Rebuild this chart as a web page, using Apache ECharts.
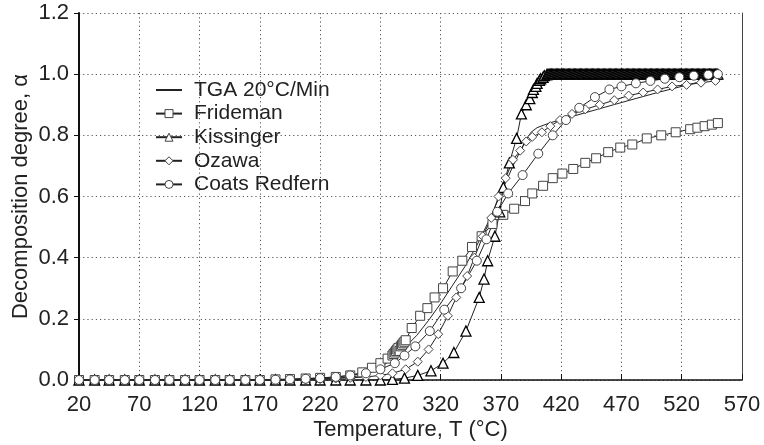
<!DOCTYPE html>
<html><head><meta charset="utf-8">
<script src="https://cdn.jsdelivr.net/npm/echarts@6/dist/echarts.min.js"></script>
<style>html,body{margin:0;padding:0;background:#fff}#c{width:764px;height:445px}</style>
</head><body><div id="c"></div>
<script>
const seriesNames = ['TGA 20°C/Min', 'Frideman', 'Kissinger', 'Ozawa', 'Coats Redfern'];
const xTicks = [20, 70, 120, 170, 220, 270, 320, 370, 420, 470, 520, 570];
const yTicks = [0, 0.2, 0.4, 0.6, 0.8, 1.0, 1.2];

const tga = [[20,0],[60,0],[100,0],[140,0],[180,0],[200,0.002],[220,0.004],[240,0.008],[250,0.012],[260,0.022],[270,0.04],[280,0.07],[290,0.105],[300,0.145],[310,0.195],[320,0.25],[330,0.31],[340,0.37],[350,0.44],[360,0.52],[370,0.61],[380,0.70],[390,0.78],[395,0.81],[400,0.825],[410,0.84],[425,0.857],[450,0.885],[477,0.915],[500,0.94],[525,0.965],[550,0.99]];

const frideman = [[20,0],[33,0],[45,0],[58,0],[70,0],[83,0],[95,0],[108,0],[120,0],[133,0],[145,0],[158,0],[170,0],[183,0.002],[195,0.003],[208,0.005],[220,0.007],[233,0.01],[245,0.015],[255,0.025],[263,0.04],[270,0.055],[276,0.07],[280,0.08],[281,0.085],[282,0.09],[283,0.095],[284,0.1],[285,0.105],[286,0.095],[287,0.11],[288,0.115],[289,0.12],[290,0.125],[291,0.13],[296,0.17],[303,0.21],[309,0.235],[315,0.27],[322,0.30],[330,0.355],[338,0.39],[346,0.435],[354,0.47],[363,0.51],[372,0.54],[381,0.56],[390,0.585],[396,0.61],[405,0.635],[413,0.66],[421,0.675],[430,0.69],[440,0.71],[449,0.725],[459,0.745],[469,0.76],[479,0.77],[491,0.79],[503,0.80],[515,0.81],[527,0.82],[533,0.825],[539,0.83],[545,0.835],[550,0.84]];

const kissinger = [[20,0],[33,0],[45,0],[58,0],[70,0],[83,0],[95,0],[108,0],[120,0],[133,0],[145,0],[158,0],[170,0],[183,0],[195,0],[208,0],[220,0],[233,0],[245,0],[258,0],[270,0],[280,0.002],[290,0.006],[301,0.015],[312,0.03],[322,0.055],[331,0.09],[341,0.16],[352,0.27],[356,0.33],[359,0.39],[365,0.47],[369,0.55],[372,0.63],[377,0.71],[383,0.79],[387,0.87],[391,0.90],[394,0.92],[396,0.94],[397,0.95],[399,0.96],[400,0.97],[402,0.98],[403,0.985],[405,0.99],[406,0.995],[408,0.998],[409,1.0],
[410,1.0],[411,1.0],[412,1.0],[413,1.0],[414,1.0],[415,1.0],[416,1.0],[417,1.0],[418,1.0],[419,1.0],[420,1.0],[421,1.0],[422,1.0],[423,1.0],[424,1.0],[425,1.0],[426,1.0],[427,1.0],[428,1.0],[429,1.0],[430,1.0],[431,1.0],[432,1.0],[433,1.0],[434,1.0],[435,1.0],[436,1.0],[437,1.0],[438,1.0],[439,1.0],[440,1.0],[441,1.0],[442,1.0],[443,1.0],[444,1.0],[445,1.0],[446,1.0],[447,1.0],[448,1.0],[449,1.0],[450,1.0],[451,1.0],[452,1.0],[453,1.0],[454,1.0],[455,1.0],[456,1.0],[457,1.0],[458,1.0],[459,1.0],[460,1.0],[461,1.0],[462,1.0],[463,1.0],[464,1.0],[465,1.0],[466,1.0],[467,1.0],[468,1.0],[469,1.0],[470,1.0],[471,1.0],[472,1.0],[473,1.0],[474,1.0],[475,1.0],[476,1.0],[477,1.0],[478,1.0],[479,1.0],[480,1.0],[481,1.0],[482,1.0],[483,1.0],[484,1.0],[485,1.0],[486,1.0],[487,1.0],[488,1.0],[489,1.0],[490,1.0],[491,1.0],[492,1.0],[493,1.0],[494,1.0],[495,1.0],[496,1.0],[497,1.0],[498,1.0],[499,1.0],[500,1.0],[501,1.0],[502,1.0],[503,1.0],[504,1.0],[505,1.0],[506,1.0],[507,1.0],[508,1.0],[509,1.0],[510,1.0],[511,1.0],[512,1.0],[513,1.0],[514,1.0],[515,1.0],[516,1.0],[517,1.0],[518,1.0],[519,1.0],[520,1.0],[521,1.0],[522,1.0],[523,1.0],[524,1.0],[525,1.0],[526,1.0],[527,1.0],[528,1.0],[529,1.0],[530,1.0],[531,1.0],[532,1.0],[533,1.0],[534,1.0],[535,1.0],[536,1.0],[537,1.0],[538,1.0],[539,1.0],[540,1.0],[541,1.0],[542,1.0],[543,1.0],[544,1.0],[545,1.0],[546,1.0],[547,1.0],[548,1.0],[549,1.0],[550,1.0]];

const ozawa = [[20,0],[33,0],[45,0],[58,0],[70,0],[83,0],[95,0],[108,0],[120,0],[133,0],[145,0],[158,0],[170,0],[183,0],[195,0.001],[208,0.002],[220,0.003],[233,0.005],[245,0.007],[258,0.01],[270,0.015],[280,0.022],[291,0.035],[301,0.06],[310,0.10],[318,0.15],[326,0.21],[333,0.27],[342,0.34],[348,0.40],[355,0.47],[362,0.53],[368,0.60],[374,0.66],[380,0.72],[386,0.75],[391,0.78],[396,0.795],[404,0.81],[411,0.83],[419,0.85],[429,0.87],[440,0.885],[452,0.90],[464,0.915],[476,0.93],[488,0.94],[500,0.95],[512,0.96],[524,0.965],[536,0.972],[548,0.978]];

const coatsRedfern = [[20,0],[33,0],[45,0],[58,0],[70,0],[83,0],[95,0],[108,0],[120,0],[133,0],[145,0],[158,0],[170,0],[183,0.001],[195,0.002],[208,0.004],[220,0.006],[233,0.01],[245,0.015],[258,0.022],[270,0.035],[282,0.055],[290,0.08],[299,0.11],[311,0.16],[323,0.23],[337,0.30],[350,0.39],[358,0.46],[367,0.55],[376,0.61],[388,0.67],[401,0.74],[413,0.80],[424,0.85],[435,0.89],[448,0.925],[460,0.95],[470,0.96],[482,0.97],[494,0.978],[506,0.985],[518,0.99],[530,0.995],[542,0.998],[550,1.0]];

const FONT = 'Liberation Sans, Arial, sans-serif';
const FS = 22;
const chart = echarts.init(document.getElementById('c'), null, {renderer: 'canvas'});

function mk(name, data, symbol, size, border, bw) {
  return {
    name: name, type: 'line', data: data,
    symbol: symbol, symbolSize: size, showSymbol: symbol !== 'none', showAllSymbol: true,
    lineStyle: {color: '#222', width: 1},
    itemStyle: {color: '#fff', borderColor: border || '#444', borderWidth: bw || 1},
    emphasis: {disabled: true}, animation: false
  };
}

const splitStyle = {show: true, lineStyle: {type: [1.2, 3], color: '#555', width: 1}};

chart.setOption({
  animation: false,
  backgroundColor: '#fff',
  grid: {left: 79, right: 22, top: 13, bottom: 65, containLabel: false, outerBoundsMode: 'none'},
  legend: {
    data: [
      {name: seriesNames[0], itemStyle: {opacity: 0}},
      {name: seriesNames[1], itemStyle: {borderColor: '#444', borderWidth: 1}},
      {name: seriesNames[2], itemStyle: {borderColor: '#444', borderWidth: 1}},
      {name: seriesNames[3], itemStyle: {borderColor: '#444', borderWidth: 1}},
      {name: seriesNames[4], itemStyle: {borderColor: '#444', borderWidth: 1}}
    ],
    orient: 'vertical', left: 150, top: 74,
    itemWidth: 26, itemHeight: 10, itemGap: 1.6,
    textStyle: {fontSize: 21, color: '#222', fontFamily: FONT, lineHeight: 22, padding: [0, 0, 0, 7]}
  },
  xAxis: {
    type: 'value', min: 20, max: 570, interval: 50,
    name: 'Temperature, T (°C)', nameLocation: 'middle', nameGap: 39, nameMoveOverlap: false,
    nameTextStyle: {fontSize: FS, color: '#222', fontFamily: FONT},
    axisLine: {show: true, onZero: false, lineStyle: {color: '#111', width: 1.5}},
    axisTick: {show: true, inside: true, length: 6, lineStyle: {color: '#111'}},
    axisLabel: {fontSize: FS, color: '#222', fontFamily: FONT, margin: 14,
      customValues: xTicks},
    splitLine: splitStyle
  },
  yAxis: [{
    type: 'value', min: 0, max: 1.2, interval: 0.2,
    name: 'Decomposition degree, α', nameLocation: 'middle', nameGap: 47, nameRotate: 90, nameMoveOverlap: false,
    nameTextStyle: {fontSize: FS, color: '#222', fontFamily: FONT},
    axisLine: {show: true, lineStyle: {color: '#111', width: 2}},
    axisTick: {show: true, inside: false, length: 5, lineStyle: {color: '#111'}},
    axisLabel: {fontSize: FS, color: '#222', fontFamily: FONT, margin: 10,
      customValues: yTicks, formatter: v => v.toFixed(1)},
    splitLine: splitStyle
  }, {
    type: 'value', min: 0, max: 1.2, interval: 0.2, position: 'right',
    axisLine: {show: true, lineStyle: {color: '#444', width: 1}},
    axisTick: {show: false}, axisLabel: {show: false}, splitLine: {show: false}
  }],
  series: [
    mk(seriesNames[0], tga, 'none', 0),
    mk(seriesNames[1], frideman, 'rect', 9),
    mk(seriesNames[2], kissinger, 'triangle', 10, '#000', 1.3),
    mk(seriesNames[3], ozawa, 'diamond', 9),
    mk(seriesNames[4], coatsRedfern, 'circle', 9)
  ]
});
</script>
</body></html>
